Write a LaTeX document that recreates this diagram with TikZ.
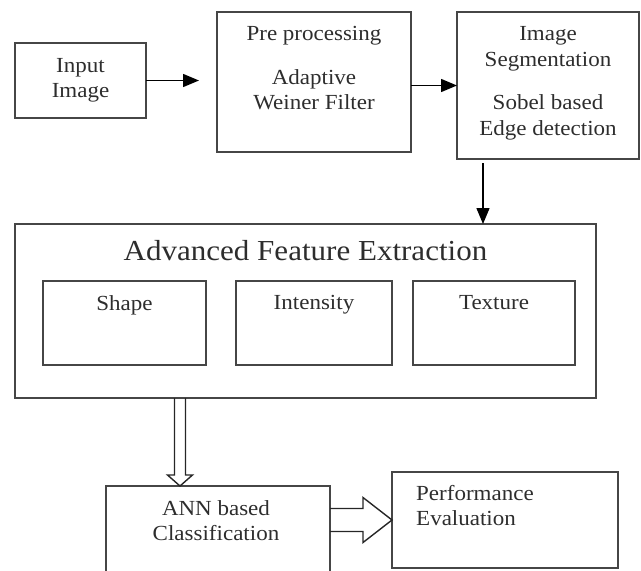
\documentclass[tikz,border=0pt]{standalone}
\usepackage{fontspec}
\setmainfont{Liberation Serif}[FakeStretch=1.07]
\usepackage{tikz}
\usetikzlibrary{arrows.meta, positioning, calc}
\definecolor{boxline}{RGB}{70,70,70}
\definecolor{txtgray}{RGB}{45,45,45}
\tikzset{
  box/.style={rectangle, draw=boxline, line width=1.5pt, outer sep=0pt, inner sep=0pt},
  txt/.style={inner sep=0pt, align=center, text=txtgray, font=\fontsize{21.5}{25}\selectfont},
  arrow/.style={-{Triangle[length=16pt,width=13pt]}, line width=1.5pt, color=black},
  hollow/.style={line width=1.4pt, draw=black!85, line join=miter}
}

\begin{document}
\begin{tikzpicture}[x=1pt, y=-1pt]
  \useasboundingbox (0,0) rectangle (641,571);

  % top row
  \node[box, txt, minimum width=131pt, minimum height=75pt] (input) at (80.5,80.5) {Input\\Image};
  \node[box, minimum width=194pt, minimum height=140pt] (pre) at (314,82) {};
  \node[box, minimum width=182pt, minimum height=147pt] (seg) at (548,85.5) {};
  \node[txt, anchor=north] (pretxt) at (314,26.5) {Pre processing\\[19pt]Adaptive\\Weiner Filter};
  \node[txt, anchor=north, font=\fontsize{21.5}{26}\selectfont] (segtxt) at (548,26.5)
    {Image\\Segmentation\\[17pt]Sobel based\\Edge detection};

  % feature extraction
  \node[box, minimum width=581pt, minimum height=174pt] (afe) at (305.5,311) {};
  \node[txt, font=\fontsize{29}{33}\selectfont, below=16pt of afe.north] (afetxt) {Advanced Feature Extraction};
  \node[box, minimum width=163pt, minimum height=84pt] (shape) at (124.5,323) {};
  \node[box, minimum width=156pt, minimum height=84pt, right=30pt of shape] (inten) {};
  \node[box, minimum width=162pt, minimum height=84pt, right=21pt of inten] (tex) {};
  \node[txt, below=14.5pt of shape.north] (shapetxt) {Shape};
  \node[txt, below=14.5pt of inten.north] (intentxt) {Intensity};
  \node[txt, below=14.5pt of tex.north] (textxt) {Texture};

  % bottom row
  \node[box, minimum width=224pt, minimum height=92pt] (ann) at (218,532) {};
  \node[box, minimum width=226pt, minimum height=96pt] (perf) at (505,520) {};
  \node[txt, below=14.5pt of ann.north, xshift=-2pt] (anntxt) {ANN based\\Classification};
  \node[txt, align=left, anchor=north west] (perftxt) at ([xshift=24pt, yshift=-13.3pt]perf.north west)
    {Performance\\Evaluation};

  % arrows
  \draw[arrow, shorten >=18pt] (input.east) -- (input.east -| pre.west);
  \draw[arrow] (pre.east |- seg.west) -- (seg.west);
  \coordinate (segout) at ([xshift=26pt, yshift=-4pt]seg.south west);
  \draw[arrow] (segout) -- (segout |- afe.north);

  % hollow arrows
  \coordinate (dtip) at ([xshift=74pt]ann.north west);
  \draw[hollow] ($(dtip |- afe.south)+(-5.5,0)$) -- ($(dtip)+(-5.5,-11)$) -- ($(dtip)+(-12.5,-11)$)
    -- (dtip) -- ($(dtip)+(12.5,-11)$) -- ($(dtip)+(5.5,-11)$) -- ($(dtip |- afe.south)+(5.5,0)$);
  \draw[hollow] ($(ann.east |- perf.west)+(0,-11.5)$) -- ($(perf.west)+(-29,-11.5)$) -- ($(perf.west)+(-29,-22.5)$)
    -- (perf.west) -- ($(perf.west)+(-29,22.5)$) -- ($(perf.west)+(-29,11.5)$) -- ($(ann.east |- perf.west)+(0,11.5)$);
\end{tikzpicture}
\end{document}
